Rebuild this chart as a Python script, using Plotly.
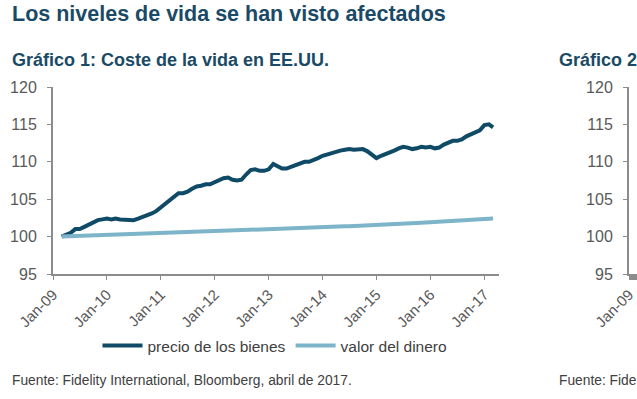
import pandas as pd
import plotly.graph_objects as go

# ---- data ----
start_month = "2009-03-01"
precio_bienes = [
    100.0, 100.2, 100.5, 101.0, 101.0, 101.3, 101.6, 101.9, 102.2, 102.3,            # 2009 Mar-Dec
    102.4, 102.3, 102.4, 102.3, 102.3, 102.3, 102.2, 102.4, 102.6, 102.8, 103.1, 103.4,  # 2010
    103.9, 104.3, 104.8, 105.3, 105.8, 105.8, 106.0, 106.4, 106.7, 106.8, 107.0, 107.0,  # 2011
    107.3, 107.6, 107.8, 107.9, 107.6, 107.5, 107.6, 108.3, 108.9, 109.0, 108.8, 108.8,  # 2012
    109.0, 109.7, 109.4, 109.1, 109.1, 109.3, 109.6, 109.8, 110.0, 110.0, 110.2, 110.5,  # 2013
    110.8, 111.0, 111.1, 111.3, 111.5, 111.6, 111.7, 111.6, 111.7, 111.7, 111.4, 111.0,  # 2014
    110.5, 110.8, 111.0, 111.2, 111.5, 111.8, 112.0, 111.9, 111.7, 111.8, 112.0, 111.9,  # 2015
    112.0, 111.8, 111.9, 112.3, 112.6, 112.8, 112.8, 113.0, 113.4, 113.7, 113.9, 114.2,  # 2016
    114.9, 115.0, 114.6,                                                              # 2017 Jan-Mar
]
valor_dinero = [
    100.00, 100.02, 100.04, 100.07, 100.09, 100.11, 100.13, 100.15, 100.17, 100.20,
    100.22, 100.24, 100.26, 100.28, 100.30, 100.33, 100.35, 100.37, 100.39, 100.41, 100.43, 100.46,
    100.48, 100.50, 100.52, 100.54, 100.56, 100.59, 100.61, 100.63, 100.65, 100.67, 100.69, 100.72,
    100.74, 100.76, 100.78, 100.80, 100.82, 100.85, 100.87, 100.89, 100.91, 100.93, 100.95, 100.98,
    101.00, 101.02, 101.04, 101.06, 101.08, 101.11, 101.13, 101.15, 101.17, 101.19, 101.21, 101.24,
    101.26, 101.28, 101.30, 101.32, 101.35, 101.37, 101.40, 101.42, 101.45, 101.47, 101.50, 101.52,
    101.55, 101.57, 101.60, 101.63, 101.66, 101.69, 101.72, 101.75, 101.78, 101.81, 101.84, 101.87,
    101.90, 101.93, 101.96, 102.00, 102.03, 102.07, 102.11, 102.14, 102.18, 102.22, 102.26, 102.30,
    102.34, 102.38, 102.42,
]
dates = pd.date_range(start_month, periods=len(precio_bienes), freq="MS")

series_names = ["precio de los bienes", "valor del dinero"]
y_ticks = [95, 100, 105, 110, 115, 120]

title_text = "Los niveles de vida se han visto afectados"
chart1_title = "Gráfico 1: Coste de la vida en EE.UU."
chart2_title = "Gráfico 2:"
source_text = "Fuente: Fidelity International, Bloomberg, abril de 2017."

# ---- styles ----
W, H = 637, 399
FONT = "Liberation Sans, Arial, sans-serif"
DARK = "#0F4A67"
LIGHT = "#7DB4C9"
TITLE_C = "#1A4A66"
TXT = "#595959"
AX = "#8C8C8C"

PLOT_TOP, PLOT_BOT = 87, 274
def py(p):
    return (PLOT_BOT - p) / (PLOT_BOT - PLOT_TOP)

fig = go.Figure()
fig.add_trace(go.Scatter(x=dates, y=precio_bienes, name=series_names[0], mode="lines",
                         line=dict(color=DARK, width=4), xaxis="x", yaxis="y"))
fig.add_trace(go.Scatter(x=dates, y=valor_dinero, name=series_names[1], mode="lines",
                         line=dict(color=LIGHT, width=4), xaxis="x", yaxis="y"))
# second (cut-off) chart axes
fig.add_trace(go.Scatter(x=[], y=[], showlegend=False, xaxis="x2", yaxis="y2"))

axis_common = dict(showline=True, linecolor=AX, linewidth=2, ticks="outside",
                   tickcolor=AX, tickwidth=1, ticklen=4, showgrid=False, zeroline=False,
                   automargin=False)

xcommon = dict(type="date", range=["2009-01-01", "2017-04-10"], tick0="2009-01-01",
               dtick="M12", tickformat="%b-%y", tickangle=-45,
               tickfont=dict(size=15, color=TXT), **axis_common)
ycommon = dict(range=[95, 120], tickvals=y_ticks, tickfont=dict(size=16, color=TXT),
               ticklabelstandoff=7, **axis_common)

fig.update_layout(
    template="none",
    width=W, height=H,
    margin=dict(l=0, r=0, t=PLOT_TOP, b=H - PLOT_BOT, autoexpand=False),
    paper_bgcolor="white", plot_bgcolor="white",
    font=dict(family=FONT, color=TXT),
    showlegend=True,
    legend=dict(orientation="h", x=275 / W, xanchor="center", y=py(346), yanchor="middle",
                font=dict(size=15.5, color="#404040"), itemwidth=40, traceorder="normal",
                bgcolor="rgba(0,0,0,0)"),
    xaxis=dict(domain=[53 / W, 499 / W], anchor="y", **xcommon),
    yaxis=dict(anchor="x", **ycommon),
    xaxis2=dict(domain=[629 / W, 1.0], anchor="y2", **xcommon),
    yaxis2=dict(anchor="x2", **ycommon),
)

fig.add_annotation(text=f"<b>{title_text}</b>", xref="paper", yref="paper",
                   x=10 / W, y=py(14), xanchor="left", yanchor="middle", showarrow=False,
                   font=dict(size=21.5, color=TITLE_C, family=FONT))
fig.add_annotation(text=f"<b>{chart1_title}</b>", xref="paper", yref="paper",
                   x=10 / W, y=py(60), xanchor="left", yanchor="middle", showarrow=False,
                   font=dict(size=18, color=TITLE_C, family=FONT))
fig.add_annotation(text=f"<b>{chart2_title}</b>", xref="paper", yref="paper",
                   x=557 / W, y=py(60), xanchor="left", yanchor="middle", showarrow=False,
                   font=dict(size=18, color=TITLE_C, family=FONT))
for sx in (10, 557):
    fig.add_annotation(text=source_text, xref="paper", yref="paper",
                       x=sx / W, y=py(380), xanchor="left", yanchor="middle", showarrow=False,
                       font=dict(size=13.8, color="#404040", family=FONT))

fig.write_html("out.html", config={"displayModeBar": False},
               post_script="document.body.style.margin='0';document.body.style.overflow='hidden';")
